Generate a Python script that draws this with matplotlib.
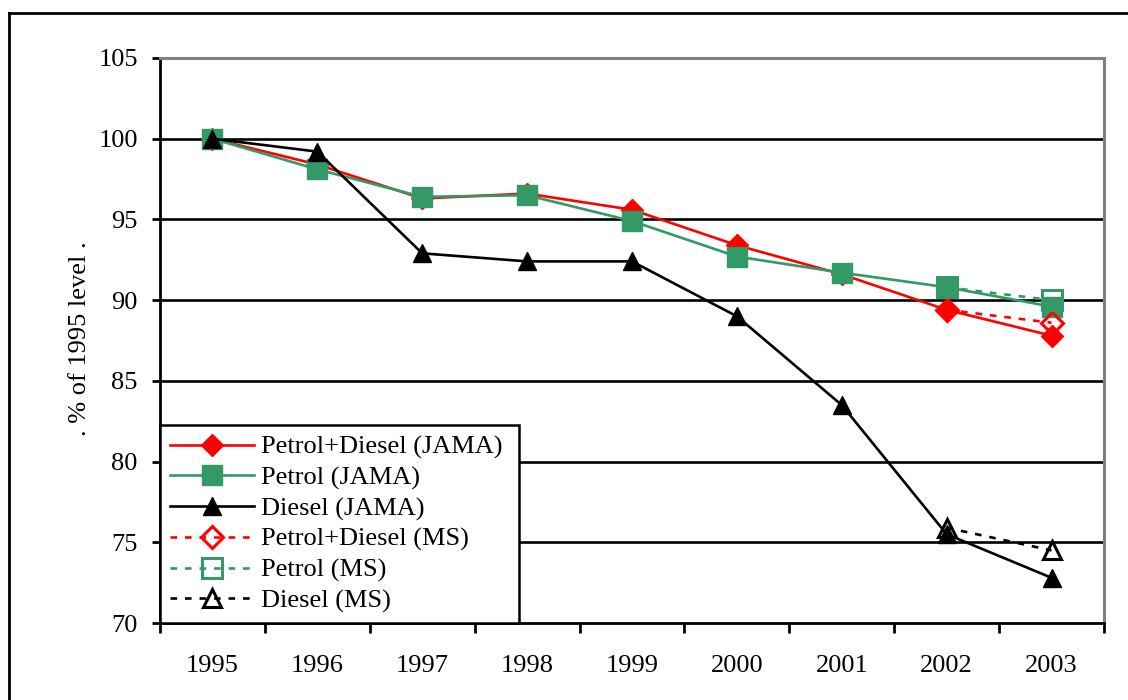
import matplotlib
matplotlib.use("Agg")
import matplotlib.pyplot as plt
from matplotlib.lines import Line2D

plt.rcParams['font.family'] = ['Liberation Serif', 'DejaVu Serif']

years = ['1995', '1996', '1997', '1998', '1999', '2000', '2001', '2002', '2003']

total_jama = [100.0, 98.4, 96.3, 96.6, 95.6, 93.4, 91.6, 89.4, 87.8]
petrol_jama = [100.0, 98.1, 96.4, 96.5, 94.9, 92.7, 91.7, 90.8, 89.6]
diesel_jama = [100.0, 99.2, 92.9, 92.4, 92.4, 89.0, 83.5, 75.5, 72.8]

ms_years = ['2002', '2003']
total_ms = [89.4, 88.6]
petrol_ms = [90.8, 90.0]
diesel_ms = [75.9, 74.5]

y_ticks = [70, 75, 80, 85, 90, 95, 100, 105]

RED = '#FF0000'
GREEN = '#339966'
BLACK = '#000000'
FS = 19

W, H = 1128, 700
fig = plt.figure(figsize=(W / 100, H / 100), dpi=100)
ax = fig.add_axes([160 / W, 1 - 623 / H, (1104 - 160) / W, (623 - 58) / H])

xi = list(range(len(years)))
xm = [years.index(y) for y in ms_years]

lw = 1.9
dash = (0, (2.5, 3))
ax.plot(xi, total_jama, color=RED, lw=lw, marker='D', ms=11, mec=RED, mfc=RED,
        label='Petrol+Diesel (JAMA)', zorder=4)
ax.plot(xi, petrol_jama, color=GREEN, lw=lw, marker='s', ms=14, mec=GREEN, mfc=GREEN,
        label='Petrol (JAMA)', zorder=4)
ax.plot(xi, diesel_jama, color=BLACK, lw=lw, marker='^', ms=12.5, mec=BLACK, mfc=BLACK,
        label='Diesel (JAMA)', zorder=4)
ax.plot(xm, total_ms, color=RED, lw=lw, ls=dash, marker='D', ms=11, mec=RED,
        mfc='none', mew=2.2, label='Petrol+Diesel (MS)', zorder=5)
ax.plot(xm, petrol_ms, color=GREEN, lw=lw, ls=dash, marker='s', ms=14, mec=GREEN,
        mfc='none', mew=2.2, label='Petrol (MS)', zorder=5)
ax.plot(xm, diesel_ms, color=BLACK, lw=lw, ls=dash, marker='^', ms=12.5, mec=BLACK,
        mfc='none', mew=2.2, label='Diesel (MS)', zorder=5)

ax.set_xlim(-0.5, len(years) - 0.5)
ax.set_ylim(70, 105)
ax.set_yticks(y_ticks)
ax.set_yticklabels([str(v) for v in y_ticks], fontsize=FS)
ax.set_xticks(xi)
ax.set_xticklabels(years, fontsize=FS)
ax.set_xticks([i - 0.5 for i in range(len(years) + 1)], minor=True)
ax.tick_params(axis='x', which='major', length=0, pad=23)
ax.tick_params(axis='x', which='minor', length=7, width=2, direction='out')
ax.tick_params(axis='y', which='major', length=6, width=2, direction='out', pad=10)

for v in y_ticks[1:-1]:
    ax.axhline(v, color=BLACK, lw=1.9, zorder=1)

ax.spines['left'].set_color(BLACK)
ax.spines['bottom'].set_color(BLACK)
ax.spines['left'].set_linewidth(2)
ax.spines['bottom'].set_linewidth(2)
ax.spines['top'].set_color('#808080')
ax.spines['right'].set_color('#808080')
ax.spines['top'].set_linewidth(2.2)
ax.spines['right'].set_linewidth(2.2)

fig.text(80 / W, 1 - 339 / H, '. % of 1995 level .', rotation=90, fontsize=FS,
         ha='center', va='center')

leg = ax.legend(loc='lower left', bbox_to_anchor=(0, 0, (519 - 160) / (1104 - 160), 0),
                mode='expand', borderaxespad=0,
                fontsize=FS, frameon=True, fancybox=False, edgecolor=BLACK,
                framealpha=1, handlelength=3.2, handletextpad=0.25, labelspacing=0.26,
                borderpad=0.38)
leg.get_frame().set_linewidth(1.8)
leg.set_zorder(10)

# outer frame around the chart
fig.add_artist(Line2D([9 / W, 1.0], [1 - 13 / H, 1 - 13 / H], color=BLACK, lw=2,
                      transform=fig.transFigure))
fig.add_artist(Line2D([9 / W, 9 / W], [1 - 13 / H, 0], color=BLACK, lw=2,
                      transform=fig.transFigure))

fig.savefig('out.png', dpi=100)
